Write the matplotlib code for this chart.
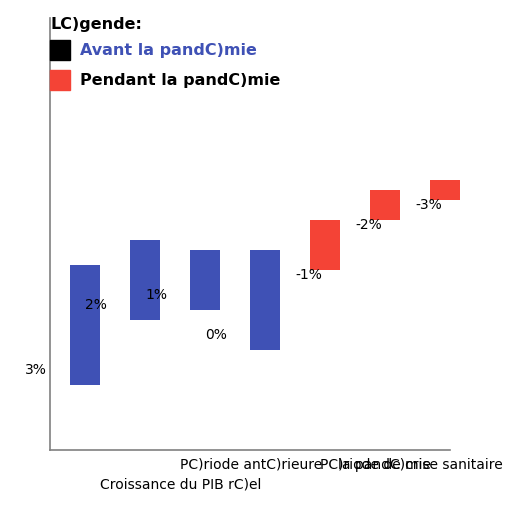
import numpy as np
import matplotlib
matplotlib.use("Agg")
import matplotlib.pyplot as plt
from matplotlib.patches import Rectangle

# ----------------------------
# Data
# ----------------------------
labels = ["3%", "2%", "1%", "0%", "-1%", "-2%", "-3%"]
bottoms = [6.5, 13.0, 14.0, 10.0, 18.0, 23.0, 25.0]
heights = [12.0, 8.0, 6.0, 10.0, 5.0, 3.0, 2.0]
phase = ["avant", "avant", "avant", "avant", "pendant", "pendant", "pendant"]

BLUE = "#3F51B5"
RED = "#F44336"
W, H = 512, 512


def px(x, y):
    """pixel coords (from top-left) -> figure fraction"""
    return x / W, 1 - y / H


fig = plt.figure(figsize=(5.12, 5.12), dpi=100)
ax = fig.add_axes([50 / W, 62 / H, 400 / W, 432 / H])

x = np.arange(len(labels))
colors = [BLUE if p == "avant" else RED for p in phase]
bars = ax.bar(x, heights, bottom=bottoms, width=0.5, color=colors)
for b in bars:
    b.set_clip_on(False)  # last bar spills past the axis end

# value labels, offset from the bar bottoms
for i, (lab, b, p) in enumerate(zip(labels, bottoms, phase)):
    if p == "avant":
        ax.text(i - 1.0, b + 1.5, lab, ha="left", va="center", fontsize=10)
    else:
        ax.text(i - 0.5, b - 0.5, lab, ha="left", va="center", fontsize=10)

ax.set_xlim(-35 / 60, 365 / 60)
ax.set_ylim(0, 43.2)
for s in ["top", "right"]:
    ax.spines[s].set_visible(False)
for s in ["left", "bottom"]:
    ax.spines[s].set_color("#808080")
    ax.spines[s].set_linewidth(1.2)
ax.set_xticks([])
ax.set_yticks([])

# legend
fig.text(*px(50, 25), "LC)gende:", fontsize=11.5, fontweight="bold", va="center", ha="left")
fig.patches.append(Rectangle(px(50, 60), 20 / W, 20 / H, color="black", transform=fig.transFigure))
fig.patches.append(Rectangle(px(50, 90), 20 / W, 20 / H, color=RED, transform=fig.transFigure))
fig.text(*px(80, 50), "Avant la pandC)mie", fontsize=11.5, fontweight="bold", color=BLUE, va="center", ha="left")
fig.text(*px(80, 80), "Pendant la pandC)mie", fontsize=11.5, fontweight="bold", color="black", va="center", ha="left")

# bottom captions
fig.text(*px(180, 465), "PC)riode antC)rieure", fontsize=10, va="center", ha="left")
fig.text(*px(320, 465), "PC)riode de crise sanitaire", fontsize=10, va="center", ha="left")
fig.text(*px(338, 465), "la pandC)mie", fontsize=10, va="center", ha="left")
fig.text(*px(100, 485), "Croissance du PIB rC)el", fontsize=10, va="center", ha="left")

fig.savefig("out.png", dpi=100)
